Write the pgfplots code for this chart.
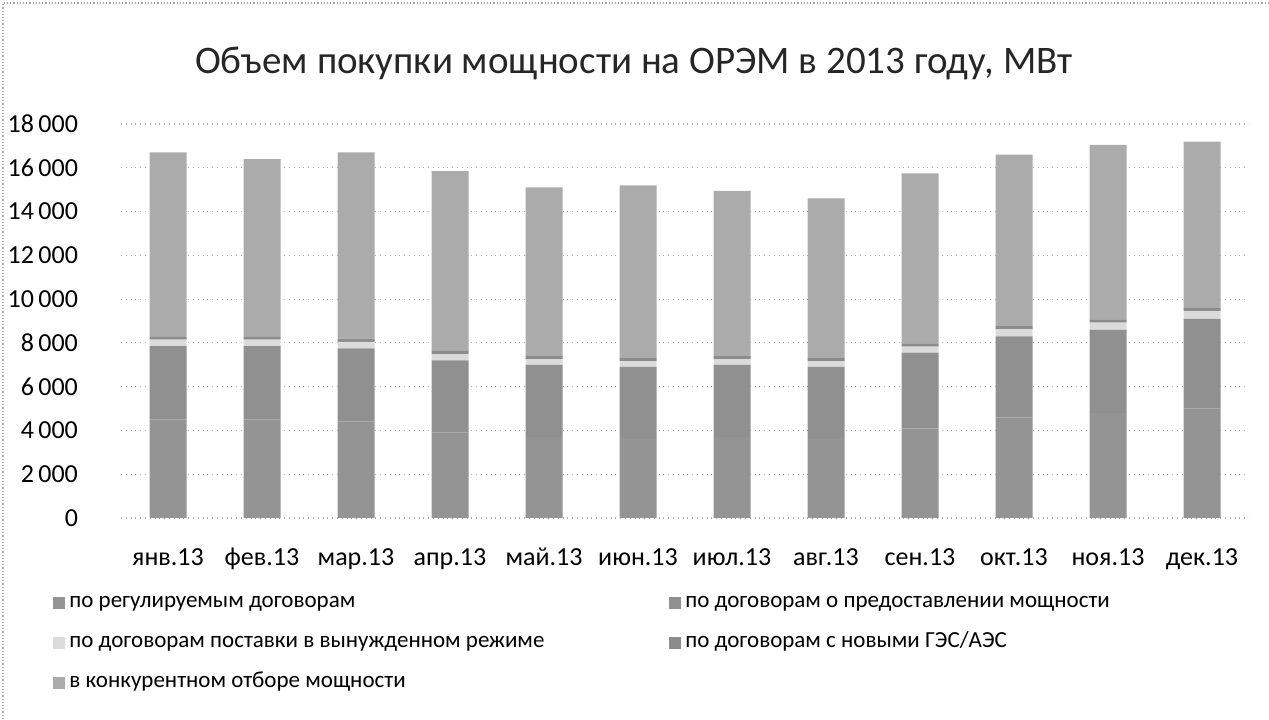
\documentclass[border=0pt]{standalone}
\usepackage{fontspec}
\setmainfont{Carlito}
\usepackage{pgfplots}
\pgfplotsset{compat=1.18}
\definecolor{cReg}{gray}{0.58}
\definecolor{cDpm}{gray}{0.565}
\definecolor{cVyn}{gray}{0.86}
\definecolor{cNew}{gray}{0.55}
\definecolor{cKom}{gray}{0.67}
\begin{document}
\begin{tikzpicture}
\useasboundingbox (0,0) rectangle (634.5pt,359.5pt);
\draw[gray!70, densely dotted, line width=0.6pt] (1.5pt,0) -- (1.5pt,358pt) -- (634.5pt,358pt);
\node[font=\fontsize{19.5}{23}\selectfont, text=black!85] at (317pt,328pt) {Объем покупки мощности на ОРЭМ в 2013 году, МВт};
\begin{axis}[
  at={(60.5pt,100.5pt)}, anchor=south west,
  scale only axis, width=564pt, height=197pt,
  ybar stacked, bar width=18.5pt,
  xmin=-0.5, xmax=11.5, ymin=0, ymax=18000,
  ytick={0,2000,...,18000},
  scaled y ticks=false,
  xtick=data,
  xticklabels={янв.13,фев.13,мар.13,апр.13,май.13,июн.13,июл.13,авг.13,сен.13,окт.13,ноя.13,дек.13},
  major tick length=0pt,
  axis line style={draw=none},
  ymajorgrids, grid style={gray!60, dotted, line width=0.6pt},
  /pgf/number format/assume math mode=true,
  /pgf/number format/1000 sep={\,},
  yticklabel style={font=\fontsize{13}{15}\selectfont, xshift=-18pt},
  xticklabel style={font=\fontsize{13}{15}\selectfont, text height=9pt, text depth=2.5pt, anchor=north, yshift=-11pt},
  legend columns=2,
  legend cell align=left,
  legend style={at={(-0.0603,-0.185)}, anchor=north west, draw=none, fill=none,
    inner sep=0pt, row sep=10pt,
    font=\fontsize{11.5}{14}\selectfont,
    nodes={inner ysep=0pt, inner xsep=2pt, text height=8pt, text depth=2pt, anchor=base west}},
  legend image code/.code={\fill[#1] (0pt,-1pt) rectangle (6pt,5pt);},
]
\addplot[fill=cReg, draw=none] coordinates {(0,4500) (1,4500) (2,4400) (3,3900) (4,3700) (5,3600) (6,3700) (7,3600) (8,4100) (9,4600) (10,4800) (11,5000)};
\addlegendentry{\makebox[298pt][l]{по регулируемым договорам}}
\addplot[fill=cDpm, draw=none] coordinates {(0,3350) (1,3350) (2,3350) (3,3300) (4,3300) (5,3300) (6,3300) (7,3300) (8,3450) (9,3700) (10,3800) (11,4100)};
\addlegendentry{по договорам о предоставлении мощности}
\addplot[fill=cVyn, draw=none] coordinates {(0,300) (1,300) (2,300) (3,280) (4,250) (5,250) (6,250) (7,250) (8,280) (9,320) (10,330) (11,350)};
\addlegendentry{\makebox[298pt][l]{по договорам поставки в вынужденном режиме}}
\addplot[fill=cNew, draw=none] coordinates {(0,150) (1,150) (2,150) (3,150) (4,150) (5,150) (6,150) (7,150) (8,150) (9,150) (10,150) (11,150)};
\addlegendentry{по договорам с новыми ГЭС/АЭС}
\addplot[fill=cKom, draw=none] coordinates {(0,8400) (1,8100) (2,8500) (3,8220) (4,7700) (5,7900) (6,7550) (7,7300) (8,7770) (9,7830) (10,7970) (11,7600)};
\addlegendentry{в конкурентном отборе мощности}
\end{axis}
\end{tikzpicture}
\end{document}
